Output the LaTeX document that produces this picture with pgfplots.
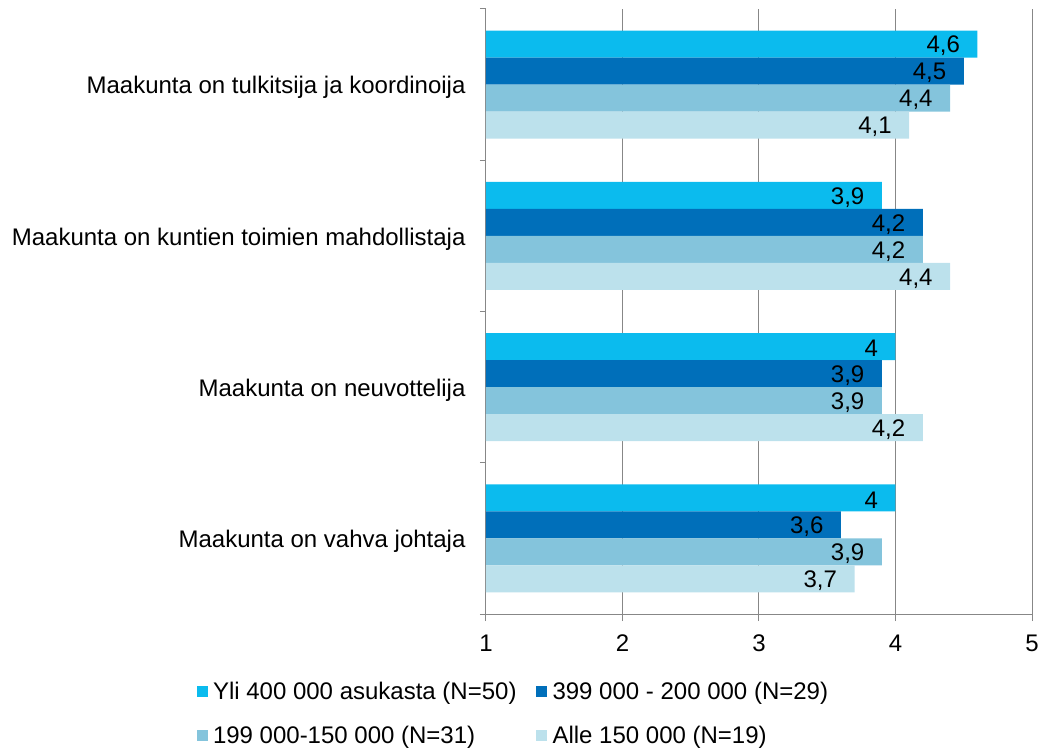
\documentclass[border=0pt]{standalone}
\usepackage{pgfplots}
\pgfplotsset{compat=1.18}
\usepackage{fontspec}
\setmainfont{Liberation Sans}
\definecolor{c1}{HTML}{0BBBEE}
\definecolor{c2}{HTML}{006FBA}
\definecolor{c3}{HTML}{84C4DC}
\definecolor{c4}{HTML}{BCE1EC}
\definecolor{axgray}{HTML}{878787}
\begin{document}
\begin{tikzpicture}[font=\fontsize{24}{29}\selectfont]
\begin{axis}[
  scale only axis, width=546pt, height=605pt,
  xmin=1, xmax=5, ymin=-0.5, ymax=3.5,
  xtick={1,2,3,4,5},
  ytick={0,1,2,3},
  yticklabels={Maakunta on vahva johtaja, Maakunta on neuvottelija, Maakunta on kuntien toimien mahdollistaja, Maakunta on tulkitsija ja koordinoija},
  minor ytick={-0.5,0.5,1.5,2.5,3.5},
  axis x line*=bottom, axis y line*=left,
  axis line style={draw=axgray, line width=1pt, -},
  xmajorgrids, major grid style={draw=axgray, line width=1pt},
  tick align=outside,
  major tick length=7pt, minor tick length=6pt,
  major x tick style={draw=axgray, line width=1pt},
  major y tick style={draw=none},
  minor y tick style={draw=axgray, line width=1pt},
  yticklabel style={xshift=-10pt, yshift=-3pt},
  xticklabel style={yshift=-10pt},
  /pgf/number format/assume math mode=true,
  xbar, bar width=0.1785, point meta=x,
  nodes near coords={\pgfmathprintnumber[use comma,assume math mode=true]{\pgfplotspointmeta}},
  every node near coord/.append style={anchor=east, text=black, xshift=-14pt, yshift=-2pt},
  legend image code/.code={\fill[#1] (0pt,-5.5pt) rectangle (11pt,5.5pt);},
  legend columns=2,
  legend cell align=left,
  legend style={draw=none, at={(-0.536,-0.1645)}, anchor=west,
    /tikz/every odd column/.append style={column sep=3pt},
    /tikz/every even column/.append style={column sep=17pt},
    row sep=21pt, nodes={inner sep=2.5pt}},
]
\addplot[fill=c1, draw=none, bar shift=0.2678] coordinates {(4.6,3) (3.9,2) (4,1) (4,0)};
\addlegendentry{Yli 400 000 asukasta (N=50)}
\addplot[fill=c2, draw=none, bar shift=0.0893] coordinates {(4.5,3) (4.2,2) (3.9,1) (3.6,0)};
\addlegendentry{399 000 - 200 000 (N=29)}
\addplot[fill=c3, draw=none, bar shift=-0.0893] coordinates {(4.4,3) (4.2,2) (3.9,1) (3.9,0)};
\addlegendentry{199 000-150 000 (N=31)}
\addplot[fill=c4, draw=none, bar shift=-0.2678] coordinates {(4.1,3) (4.4,2) (4.2,1) (3.7,0)};
\addlegendentry{Alle 150 000 (N=19)}
\end{axis}
\pgfresetboundingbox
\path (current axis.south west) ++(-486pt,-137pt) rectangle ++(1040pt,751pt);
\end{tikzpicture}
\end{document}
